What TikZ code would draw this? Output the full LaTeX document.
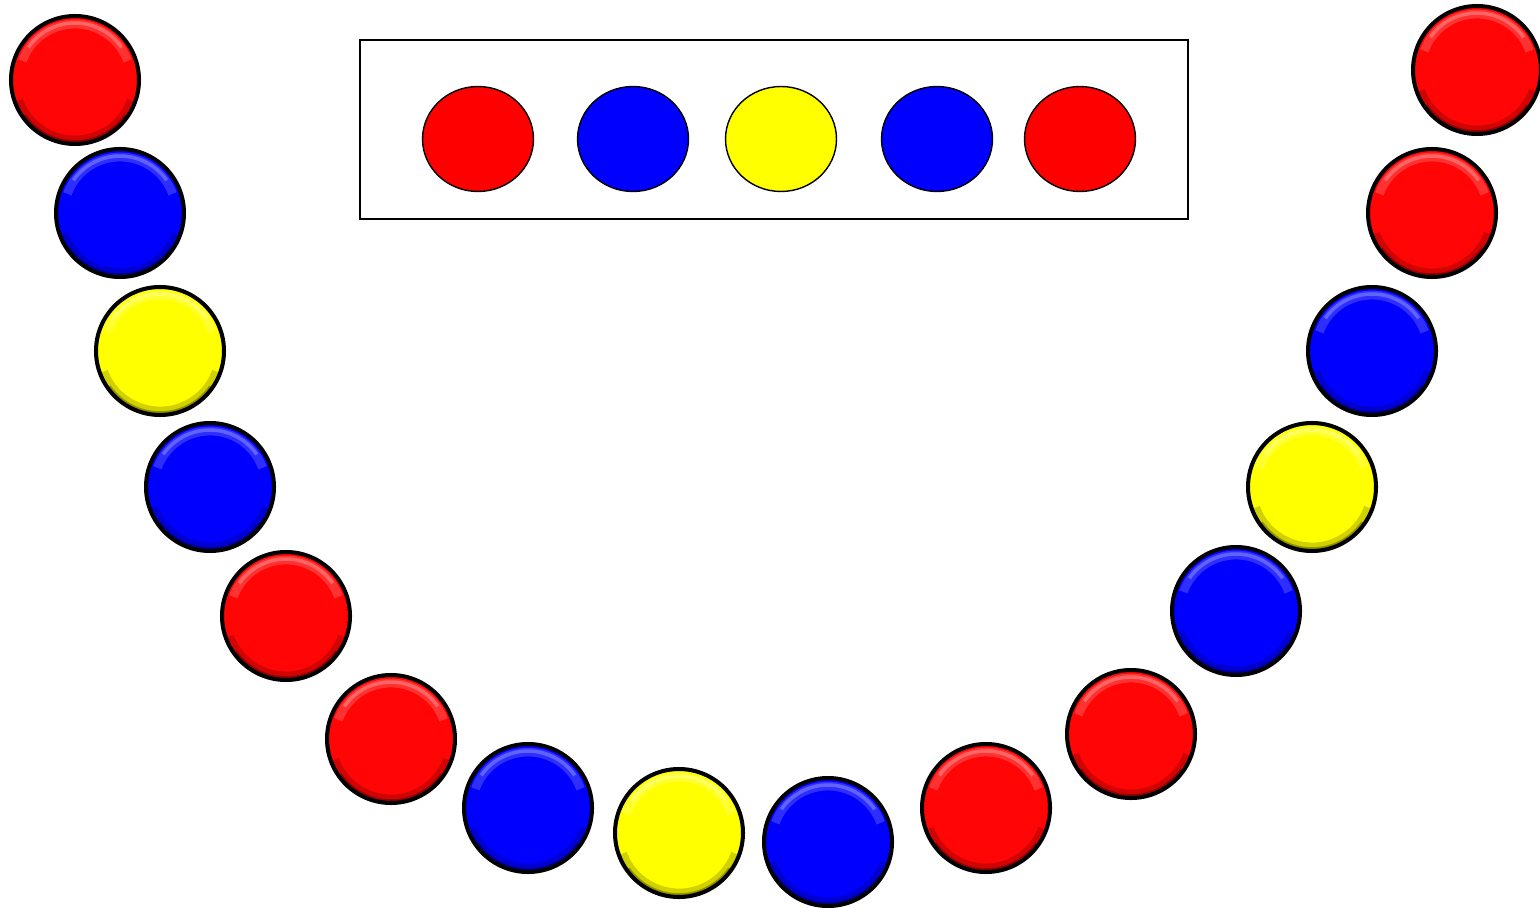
\documentclass[tikz,border=0pt]{standalone}
\usepackage{xcolor}
\usepackage{tikz}
\usetikzlibrary{positioning,calc,shapes.geometric}
\definecolor{beadred}{HTML}{FF0505}
\definecolor{cardred}{HTML}{FF0000}
\definecolor{beadblue}{HTML}{0000FF}
\definecolor{beadyellow}{HTML}{FFFF00}
\tikzset{
  bead/.style   ={draw, circle, line width=2.3pt, minimum size=2.56cm, inner sep=0pt,
                  path picture={
                    \draw[white, opacity=0.18, line width=5pt] ($(path picture bounding box.center)+(20:1.12cm)$) arc[start angle=20, end angle=160, radius=1.12cm];
                    \draw[white, opacity=0.25, line width=2pt] ($(path picture bounding box.center)+(35:1.14cm)$) arc[start angle=35, end angle=145, radius=1.14cm];
                    \draw[black, opacity=0.18, line width=5pt] ($(path picture bounding box.center)+(200:1.2cm)$) arc[start angle=200, end angle=340, radius=1.2cm];
                    \draw[black, opacity=0.3, line width=2pt] ($(path picture bounding box.center)+(215:1.24cm)$) arc[start angle=215, end angle=325, radius=1.24cm];
                  }},
  pat/.style    ={draw, ellipse, line width=0.8pt, minimum width=2.22cm, minimum height=2.1cm, inner sep=0pt},
  frame/.style  ={draw, rectangle, line width=0.8pt, minimum width=16.56cm, minimum height=3.58cm},
}
\begin{document}
\begin{tikzpicture}[x=0.02cm, y=-0.02cm]
  \useasboundingbox (0,0) rectangle (1540,908);

  % pattern card
  \node[frame] (card) at (774,129.5) {};
  \node[pat, fill=cardred]    (p1) at (478,139) {};
  \node[pat, fill=beadblue]   (p2) at (633,139) {};
  \node[pat, fill=beadyellow] (p3) at (781,139) {};
  \node[pat, fill=beadblue]   (p4) at (937,139) {};
  \node[pat, fill=cardred]    (p5) at (1080,139) {};

  % necklace, left to right
  \node[bead, fill=beadred]    (b1)  at (75,80) {};
  \node[bead, fill=beadblue]   (b2)  at (120,213) {};
  \node[bead, fill=beadyellow] (b3)  at (160,351) {};
  \node[bead, fill=beadblue]   (b4)  at (210,487) {};
  \node[bead, fill=beadred]    (b5)  at (286,616) {};
  \node[bead, fill=beadred]    (b6)  at (391,739) {};
  \node[bead, fill=beadblue]   (b7)  at (528,808) {};
  \node[bead, fill=beadyellow] (b8)  at (679,833) {};
  \node[bead, fill=beadblue]   (b9)  at (828,842) {};
  \node[bead, fill=beadred]    (b10) at (986,808) {};
  \node[bead, fill=beadred]    (b11) at (1131,734) {};
  \node[bead, fill=beadblue]   (b12) at (1236,611) {};
  \node[bead, fill=beadyellow] (b13) at (1312,487) {};
  \node[bead, fill=beadblue]   (b14) at (1372,351) {};
  \node[bead, fill=beadred]    (b15) at (1432,213) {};
  \node[bead, fill=beadred]    (b16) at (1477,70) {};
\end{tikzpicture}
\end{document}
